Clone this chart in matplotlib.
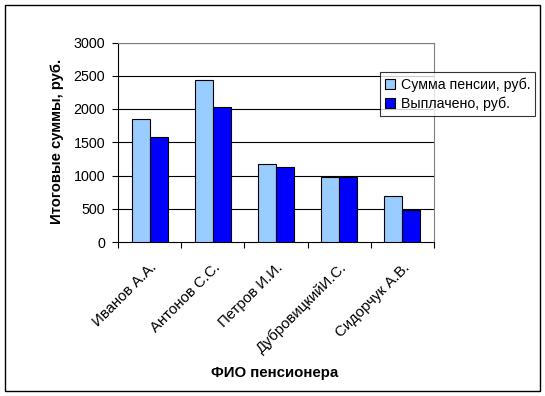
import matplotlib
matplotlib.use("Agg")
import matplotlib.pyplot as plt
import numpy as np
from matplotlib.patches import Rectangle

names = ["Иванов А.А.", "Антонов С.С.", "Петров И.И.", "ДубровицкийИ.С.", "Сидорчук А.В."]
pension = [1850, 2440, 1180, 975, 690]
paid = [1580, 2035, 1125, 975, 480]
series_labels = ["Сумма пенсии, руб.", "Выплачено, руб."]
yticks = [0, 500, 1000, 1500, 2000, 2500, 3000]

plt.rcParams['font.family'] = ['Liberation Sans', 'DejaVu Sans']
fs = 10.3

fig = plt.figure(figsize=(5.45, 3.96), dpi=100)
W, H = 545, 396
ax = fig.add_axes([118 / W, 1 - 242 / H, (434 - 118) / W, (242 - 42.5) / H])

x = np.arange(len(names))
bw = 0.285
ax.bar(x - bw / 2, pension, bw, color='#99ccff', edgecolor='black', linewidth=0.8, label=series_labels[0], zorder=3)
ax.bar(x + bw / 2, paid, bw, color='#0000ff', edgecolor='black', linewidth=0.8, label=series_labels[1], zorder=3)

ax.set_xlim(-0.5, len(names) - 0.5)
ax.set_ylim(0, 3000)
ax.set_yticks(yticks)
ax.set_yticklabels([str(v) for v in yticks], fontsize=fs)
for v in yticks[1:]:
    ax.axhline(v, color='black', linewidth=0.8, zorder=1)

ax.set_xticks(x)
ax.set_xticklabels(names, rotation=45, ha='right', rotation_mode='anchor', fontsize=10.8)
ax.tick_params(axis='x', which='major', length=0, pad=13)
ax.set_xticks(np.arange(-0.5, len(names)), minor=True)
ax.tick_params(axis='x', which='minor', length=4.3, width=0.8, direction='out')
ax.tick_params(axis='y', length=4.3, width=0.8, direction='out', pad=5)

for s in ['top', 'right']:
    ax.spines[s].set_color('#808080')
    ax.spines[s].set_linewidth(0.8)
for s in ['left', 'bottom']:
    ax.spines[s].set_color('black')
    ax.spines[s].set_linewidth(0.8)

fig.text(57 / W, 1 - 141 / H, "Итоговые суммы, руб.", fontsize=10.7, fontweight='bold',
         rotation=90, ha='center', va='center')
fig.text(275 / W, 1 - 373 / H, "ФИО пенсионера", fontsize=10.8, fontweight='bold', ha='center', va='center')

leg = fig.legend(loc='upper left', bbox_to_anchor=(380 / W, 1 - 72.3 / H), fontsize=10.2,
                 frameon=True, fancybox=False, edgecolor='black', borderpad=0.35,
                 handlelength=0.7, handleheight=0.7, handletextpad=0.4, labelspacing=0.35,
                 borderaxespad=0)
leg.get_frame().set_linewidth(0.8)

fig.patches.append(Rectangle((5 / W, 5 / H), (540 - 5) / W, (391 - 5) / H, transform=fig.transFigure,
                             fill=False, edgecolor='black', linewidth=1))

fig.savefig("out.png", dpi=100)
